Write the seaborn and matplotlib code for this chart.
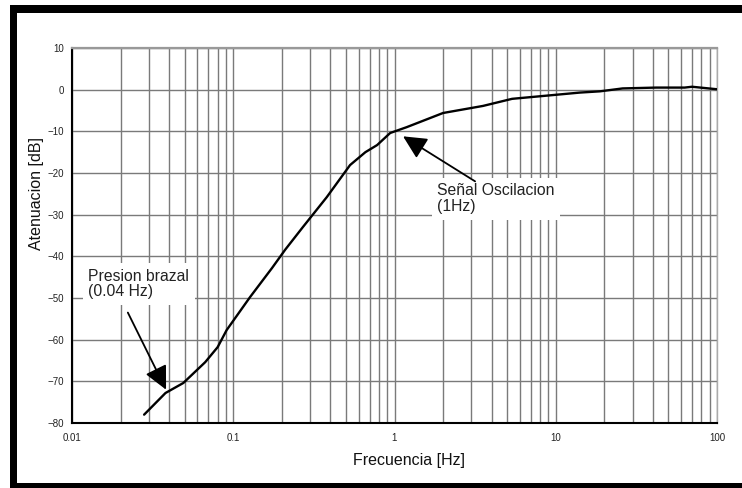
import numpy as np
import pandas as pd
import matplotlib
matplotlib.use("Agg")
import matplotlib.pyplot as plt
from matplotlib.patches import Rectangle
from matplotlib.ticker import LogLocator, NullFormatter, FixedLocator
import seaborn as sns

# ---- data ----
freq_hz = [0.028, 0.038, 0.049, 0.067, 0.080, 0.091, 0.127, 0.174, 0.21, 0.27,
           0.38, 0.53, 0.66, 0.78, 0.94, 1.19, 2.0, 3.54, 5.36, 14.1,
           18.8, 26.0, 42.0, 63.0, 70.0, 100.0]
atten_db = [-78.0, -72.8, -70.4, -65.4, -61.8, -57.7, -49.8, -42.8, -38.4, -33.0,
            -25.8, -18.1, -15.0, -13.3, -10.4, -9.0, -5.6, -3.9, -2.2, -0.7,
            -0.4, 0.3, 0.5, 0.5, 0.7, 0.1]

x_ticks = [0.01, 0.1, 1, 10, 100]
x_tick_labels = ["0.01", "0.1", "1", "10", "100"]
y_ticks = [-80, -70, -60, -50, -40, -30, -20, -10, 0, 10]

ann_text_1 = "Presion brazal\n(0.04 Hz)"
ann_text_1_pos = (0.0126, -43.0)
ann_arrow_1_tip = (0.0383, -72.0)
ann_arrow_1_tail = (0.0222, -53.5)

ann_text_2 = "Señal Oscilacion\n(1Hz)"
ann_text_2_pos = (1.84, -22.5)
ann_arrow_2_tip = (1.13, -11.2)
ann_arrow_2_tail = (3.16, -22.0)

df = pd.DataFrame({"freq": freq_hz, "db": atten_db})

sns.set_style("white")
plt.rcParams["font.family"] = ["Liberation Sans", "DejaVu Sans"]

W, H = 742, 488
fig = plt.figure(figsize=(W / 100, H / 100), dpi=100)
ax = fig.add_axes([72 / W, 1 - 423 / H, (717 - 72) / W, (423 - 48) / H])

ax.set_xscale("log")
ax.set_xlim(0.01, 100)
ax.set_ylim(-80, 10)

grid_kw = dict(color="#7a7a7a", lw=1.0)
ax.xaxis.set_major_locator(FixedLocator(x_ticks))
ax.xaxis.set_minor_locator(LogLocator(base=10, subs=np.arange(2, 10)))
ax.xaxis.set_minor_formatter(NullFormatter())
ax.set_xticks(x_ticks)
ax.set_xticklabels(x_tick_labels)
ax.set_yticks(y_ticks)
ax.grid(which="major", axis="both", **grid_kw)
ax.grid(which="minor", axis="x", **grid_kw)
ax.set_axisbelow(True)

sns.lineplot(data=df, x="freq", y="db", ax=ax, color="black", lw=1.7, zorder=3)

ax.tick_params(axis="both", which="both", length=0, labelsize=7, colors="#222222")
ax.tick_params(axis="y", pad=6)
ax.tick_params(axis="x", pad=7)

for s in ["left", "bottom"]:
    ax.spines[s].set_color("black")
    ax.spines[s].set_linewidth(1.5)
ax.spines["top"].set_color("#999999")
ax.spines["top"].set_linewidth(1.6)
ax.spines["right"].set_color("#aaaaaa")
ax.spines["right"].set_linewidth(1.0)

ax.set_xlabel("")
ax.set_ylabel("")
fig.text(409 / W, 1 - 460 / H, "Frecuencia [Hz]", ha="center", va="center",
         fontsize=11.5, color="#111111")
fig.text(37 / W, 1 - 194 / H, "Atenuacion [dB]", ha="center", va="center",
         rotation=90, fontsize=11.5, color="#111111")

bbox_w = dict(facecolor="white", edgecolor="none", pad=4)
ax.text(*ann_text_1_pos, ann_text_1, ha="left", va="top", fontsize=11.3,
        color="#222222", bbox=bbox_w, zorder=4, linespacing=1.05)
ax.text(*ann_text_2_pos, ann_text_2, ha="left", va="top", fontsize=11.3,
        color="#222222", bbox=bbox_w, zorder=4, linespacing=1.05)

arrow_kw = dict(arrowstyle="-|>,head_length=0.65,head_width=0.32", color="black",
                lw=1.3, mutation_scale=22, shrinkA=0, shrinkB=0)
ax.annotate("", xy=ann_arrow_1_tip, xytext=ann_arrow_1_tail, arrowprops=arrow_kw, zorder=5)
ax.annotate("", xy=ann_arrow_2_tip, xytext=ann_arrow_2_tail, arrowprops=arrow_kw, zorder=5)

# black frame around the picture (left, top, bottom)
for (x0, y0, x1, y1) in [(10, 5, 17, 488), (10, 5, 742, 13), (10, 483, 742, 488)]:
    fig.add_artist(Rectangle((x0 / W, 1 - y1 / H), (x1 - x0) / W, (y1 - y0) / H,
                             transform=fig.transFigure, facecolor="black",
                             edgecolor="none"))

fig.savefig("out.png", dpi=100)
